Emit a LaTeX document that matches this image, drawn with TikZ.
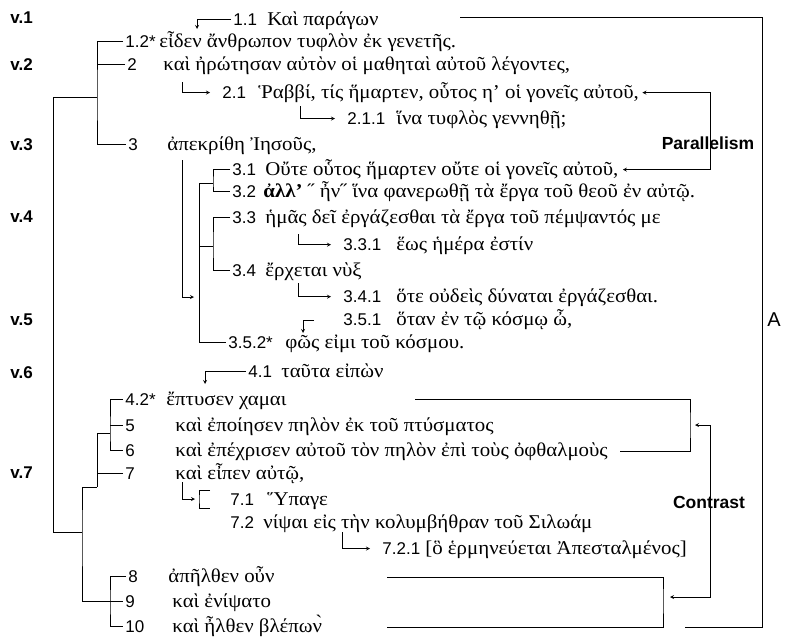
\documentclass[tikz,border=0pt]{standalone}
\usepackage{fontspec}
\setmainfont{Liberation Serif}[FakeStretch=1.07]
\newfontfamily\numfont{Liberation Sans}
\usetikzlibrary{positioning}

\begin{document}
\begin{tikzpicture}[x=1pt,y=-1pt,>=stealth,line width=.8pt,
  nb/.style={font=\numfont\fontsize{17}{19}\selectfont,anchor=base west,inner xsep=2pt,inner ysep=0pt},
  gk/.style={font=\fontsize{19.5}{22}\selectfont,anchor=base west,inner sep=0pt},
  vv/.style={font=\numfont\bfseries\fontsize{17}{19}\selectfont,anchor=base west,inner sep=0pt},
  tag/.style={font=\numfont\bfseries\fontsize{17.5}{20}\selectfont,inner sep=0pt},
  arr/.style={->,shorten >=10pt}]
  \useasboundingbox (0,0) rectangle (792,637);
  % verse labels
  \foreach \v/\y in {1/23.5,2/70.5,3/150.5,4/222.5,5/325.5,6/378.5,7/478.5} {
    \node[vv] (v\v) at (10,\y) {v.\v};
  }
  % rows
  \node[nb] (n11) at (231,25.5) {1.1};
  \node[gk] (t11) at (267,25.5) {Καὶ παράγων};
  \node[nb] (n12) at (123,47.5) {1.2*};
  \node[gk] (t12) at (159,47.5) {εἶδεν ἄνθρωπον τυφλὸν ἐκ γενετῆς.};
  \node[nb] (n2) at (125,70.5) {2};
  \node[gk] (t2) at (163,70.5) {καὶ ἠρώτησαν αὐτὸν οἱ μαθηταὶ αὐτοῦ λέγοντες,};
  \node[nb] (n21) at (220,98.5) {2.1};
  \node[gk] (t21) at (258,98.5) {Ῥαββί, τίς ἥμαρτεν, οὗτος η’ οἱ γονεῖς αὐτοῦ,};
  \node[nb] (n211) at (345,124.5) {2.1.1};
  \node[gk] (t211) at (396,124.5) {ἵνα τυφλὸς γεννηθῇ;};
  \node[nb] (n3) at (126,150.5) {3};
  \node[gk] (t3) at (167,150.5) {ἀπεκρίθη Ἰησοῦς,};
  \node[nb] (n31) at (230,175.5) {3.1};
  \node[gk] (t31) at (265,175.5) {Οὔτε οὗτος ἥμαρτεν οὔτε οἱ γονεῖς αὐτοῦ,};
  \node[nb] (n32) at (230,197.5) {3.2};
  \node[gk] (t32) at (263,197.5) {\textbf{ἀλλ’} ˝ ἦν˝ ἵνα φανερωθῇ τὰ ἔργα τοῦ θεοῦ ἐν αὐτῷ.};
  \node[nb] (n33) at (230,223.5) {3.3};
  \node[gk] (t33) at (265,223.5) {ἡμᾶς δεῖ ἐργάζεσθαι τὰ ἔργα τοῦ πέμψαντός με};
  \node[nb] (n331) at (341,250.5) {3.3.1};
  \node[gk] (t331) at (396,250.5) {ἕως ἡμέρα ἐστίν};
  \node[nb] (n34) at (230,276.5) {3.4};
  \node[gk] (t34) at (265,276.5) {ἔρχεται νὺξ};
  \node[nb] (n341) at (341,302.5) {3.4.1};
  \node[gk] (t341) at (396,302.5) {ὅτε οὐδεὶς δύναται ἐργάζεσθαι.};
  \node[nb] (n351) at (341,325.5) {3.5.1};
  \node[gk] (t351) at (396,325.5) {ὅταν ἐν τῷ κόσμῳ ὦ,};
  \node[nb] (n352) at (226,348.5) {3.5.2*};
  \node[gk] (t352) at (285,348.5) {φῶς εἰμι τοῦ κόσμου.};
  \node[nb] (n41) at (246,377.5) {4.1};
  \node[gk] (t41) at (281,377.5) {ταῦτα εἰπὼν};
  \node[nb] (n42) at (123,405.5) {4.2*};
  \node[gk] (t42) at (166,405.5) {ἔπτυσεν χαμαι};
  \node[nb] (n5) at (123,431.5) {5};
  \node[gk] (t5) at (175,431.5) {καὶ ἐποίησεν πηλὸν ἐκ τοῦ πτύσματος};
  \node[nb] (n6) at (123,456.5) {6};
  \node[gk] (t6) at (175,456.5) {καὶ ἐπέχρισεν αὐτοῦ τὸν πηλὸν ἐπὶ τοὺς ὀφθαλμοὺς};
  \node[nb] (n7) at (123,479.5) {7};
  \node[gk] (t7) at (175,479.5) {καὶ εἶπεν αὐτῷ,};
  \node[nb] (n71) at (228,505.5) {7.1};
  \node[gk] (t71) at (267,505.5) {Ὕπαγε};
  \node[nb] (n72) at (228,528.5) {7.2};
  \node[gk] (t72) at (263,528.5) {νίψαι εἰς τὴν κολυμβήθραν τοῦ Σιλωάμ};
  \node[nb] (n721) at (380,554.5) {7.2.1};
  \node[gk] (t721) at (425,554.5) {[ὃ ἑρμηνεύεται Ἀπεσταλμένος]};
  \node[nb] (n8) at (126,582.5) {8};
  \node[gk] (t8) at (168,582.5) {ἀπῆλθεν οὖν};
  \node[nb] (n9) at (123,607.5) {9};
  \node[gk] (t9) at (172,607.5) {καὶ ἐνίψατο};
  \node[nb] (n10) at (123,632.5) {10};
  \node[gk] (t10) at (172,632.5) {καὶ ἦλθεν βλέπων̀};
  % tree on the left
  \coordinate (j0) at (53,97);
  \coordinate (j1) at (97,97);
  \coordinate (j2) at (82,532);
  \coordinate (j3) at (97,487);
  \coordinate (j4) at (110,433);
  \coordinate (j6) at (110,603);
  \draw (n12.west) -| (j1) |- (n3.west);
  \draw (n2.west) -- (n2.west -| j1);
  \draw (j1) -- (j0) |- (j2);
  \draw (j3) -| (j2) |- (n9.west);
  \draw (j4) -- (j4 -| j3) -- (j3);
  \draw (n7.west) -- (n7.west -| j3);
  \draw (n42.west) -| (j4) |- (n6.west);
  \draw (n5.west) -- (n5.west -| j4);
  \draw (n8.west) -| (j6) |- (n10.west);
  % tree under 3
  \coordinate (k0) at (199,183);
  \coordinate (k1) at (213,183);
  \coordinate (k2) at (213,246);
  \coordinate (k3) at (199,297);
  \draw (n31.west) -| (k1) |- (n32.west);
  \draw (k1) -- (k0) |- (n352.west);
  \draw (n33.west) -| (k2) |- (n34.west);
  \draw (k2) -- (k2 -| k0);
  % bracket 7.1/7.2
  \coordinate (q1) at (210,490);
  \coordinate (q2) at (199,499);
  \coordinate (q3) at (210,508);
  \draw (q1) -| (q2) |- (q3);
  % arrows
  \coordinate (u1) at (197,29);
  \coordinate (u2) at (182,82);
  \coordinate (u21) at (300,106);
  \coordinate (u3) at (182,160);
  \coordinate (u33) at (298,234);
  \coordinate (u34) at (298,283);
  \coordinate (u35) at (303,333);
  \coordinate (u35b) at (314,320);
  \coordinate (u41) at (205,384);
  \coordinate (u7) at (182,482);
  \coordinate (u72) at (342,532);
  \draw[->] (n11.west) -| (u1);
  \draw[arr] (u2) |- (n21.west);
  \draw[arr] (u21) |- (n211.west);
  \draw[->,shorten >=5pt] (u3) |- (k3);
  \draw[arr] (u33) |- (n331.west);
  \draw[arr] (u34) |- (n341.west);
  \draw[->] (u35b) -| (u35);
  \draw[->] (n41.west) -| (u41);
  \draw[->,shorten >=4pt] (u7) |- (q2);
  \draw[arr] (u72) |- (n721.west);
  % right side
  \coordinate (p0) at (710,130);
  \draw[<->,shorten <=3pt,shorten >=4pt] (t21.east) -| (p0) |- (t31.east);
  \node[tag] (par) at (708,143) {Parallelism};
  \coordinate (b1) at (415,399);
  \coordinate (b0) at (690,425);
  \coordinate (b2) at ([xshift=12pt]t6.east);
  \draw (b1) -| (b0) |- (b2);
  \coordinate (c1) at (695,425);
  \coordinate (c0) at (710,510);
  \coordinate (c2) at (670,597);
  \draw[<->] (c1) -| (c0) |- (c2);
  \node[tag] (con) at (709,502) {Contrast};
  \coordinate (d1) at (387,577);
  \coordinate (d0) at (663,600);
  \coordinate (d2) at (387,627);
  \draw (d1) -| (d0) |- (d2);
  \coordinate (A1) at (460,17);
  \coordinate (Ar) at (762,320);
  \coordinate (A2) at (685,627);
  \draw (A1) -| (Ar) |- (A2);
  \node[font=\numfont\fontsize{20}{22}\selectfont,right=5pt of Ar,inner sep=0pt] (lA) {A};
\end{tikzpicture}
\end{document}
